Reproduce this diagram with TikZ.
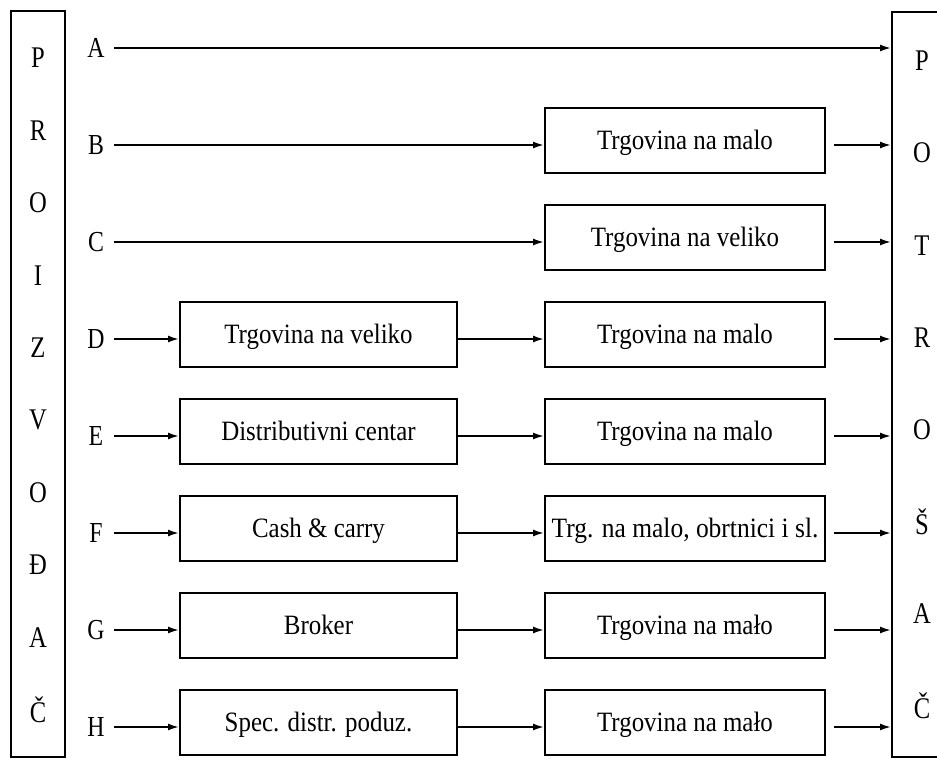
\documentclass[tikz,border=0pt]{standalone}
\usepackage{fontspec}
\setmainfont{Liberation Serif}
\usepackage{graphicx}
\usetikzlibrary{arrows.meta,calc}
\newcommand\hsq[1]{\scalebox{0.82}[1]{#1}}
\newcommand\hsb[1]{\scalebox{0.89}[1]{#1}}
\begin{document}
\begin{tikzpicture}[x=1pt,y=-1pt,
  frame/.style={draw,line width=2pt,inner sep=0pt},
  stagebox/.style={draw,line width=2pt,minimum height=65pt,inner sep=0pt,text height=18.5pt,text depth=0pt,font=\fontsize{28}{32}\selectfont},
  lbox/.style={stagebox,minimum width=277pt},
  rbox/.style={stagebox,minimum width=280pt},
  rowlbl/.style={inner sep=0pt,minimum width=36pt,font=\fontsize{29}{32}\selectfont},
  sidelbl/.style={inner sep=0pt,font=\fontsize{30}{32}\selectfont},
  arr/.style={line width=1.8pt,-{Latex[length=11pt,width=7pt]}}
]
\useasboundingbox[fill=white] (0,0) rectangle (937,761);

% side frames
\node[frame,minimum width=54pt,minimum height=746pt] (prod) at (38,384) {};
\node[frame,minimum width=100pt,minimum height=745pt] (cons) at (942,384.5) {};

% side letters
\foreach \t [count=\i] in {P,R,O,I,Z,V,O,Đ,A,Č}
  \node[sidelbl] (pl\i) at (38,{58+72.4*(\i-1)}) {\hsq{\t}};
\foreach \t [count=\i] in {P,O,T,R,O,Š,A,Č}
  \node[sidelbl] (cl\i) at (922,{61+92.1*(\i-1)}) {\hsq{\t}};

% row labels
\node[rowlbl] (lA) at (96,48)  {\hsq{A}};
\node[rowlbl] (lB) at (96,145) {\hsq{B}};
\node[rowlbl] (lC) at (96,242) {\hsq{C}};
\node[rowlbl] (lD) at (96,339) {\hsq{D}};
\node[rowlbl] (lE) at (96,436) {\hsq{E}};
\node[rowlbl] (lF) at (96,533) {\hsq{F}};
\node[rowlbl] (lG) at (96,630) {\hsq{G}};
\node[rowlbl] (lH) at (96,727) {\hsq{H}};

% left boxes
\node[lbox] (bD) at (318.5,334) {\hsb{Trgovina na veliko}};
\node[lbox] (bE) at (318.5,431) {\hsb{Distributivni centar}};
\node[lbox] (bF) at (318.5,528) {\hsb{Cash \& carry}};
\node[lbox] (bG) at (318.5,625) {\hsb{Broker}};
\node[lbox] (bH) at (318.5,722) {\hsb{Spec. distr. poduz.}};

% right boxes
\node[rbox] (rB) at (685,140) {\hsb{Trgovina na malo}};
\node[rbox] (rC) at (685,237) {\hsb{Trgovina na veliko}};
\node[rbox] (rD) at (685,334) {\hsb{Trgovina na malo}};
\node[rbox] (rE) at (685,431) {\hsb{Trgovina na malo}};
\node[rbox] (rF) at (685,528) {\scalebox{0.91}[1]{Trg. na malo, obrtnici i sl.}};
\node[rbox] (rG) at (685,625) {\hsb{Trgovina na mało}};
\node[rbox] (rH) at (685,722) {\hsb{Trgovina na mało}};

% row A
\draw[arr] (lA.east) -- (lA -| cons.west);
% rows B, C
\foreach \r in {B,C}{
  \draw[arr] (l\r.east) -- (l\r -| r\r.west);
  \draw[arr] ($(r\r.east |- l\r)+(8,0)$) -- (l\r -| cons.west);
}
% rows D-H
\foreach \r in {D,E,F,G,H}{
  \draw[arr] (l\r.east) -- (l\r -| b\r.west);
  \draw[arr] (b\r.east |- l\r) -- (l\r -| r\r.west);
  \draw[arr] ($(r\r.east |- l\r)+(8,0)$) -- (l\r -| cons.west);
}
\end{tikzpicture}
\end{document}
